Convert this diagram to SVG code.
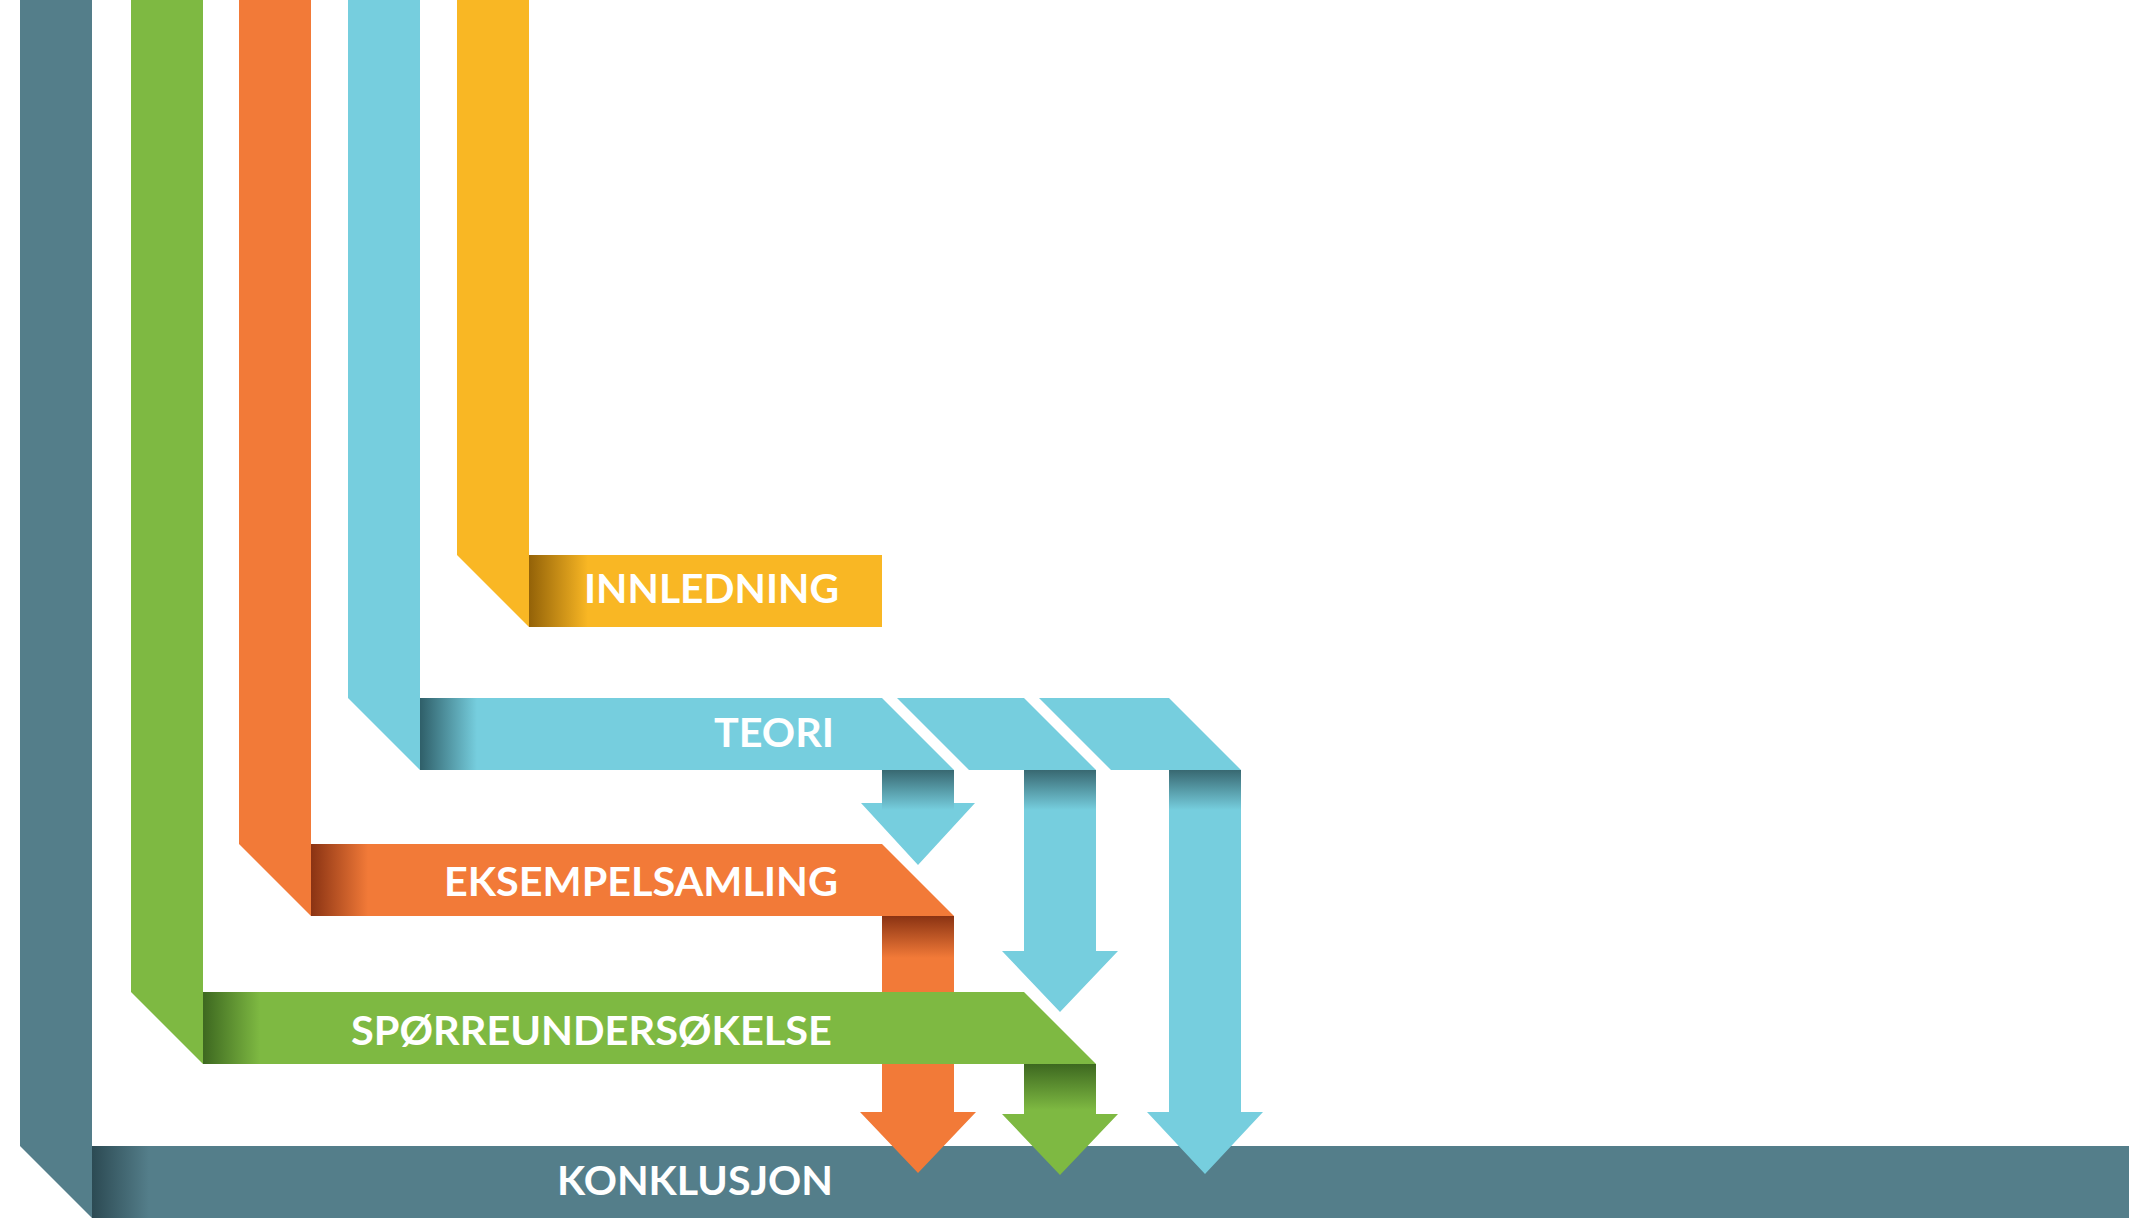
<svg xmlns="http://www.w3.org/2000/svg" width="2129" height="1218" viewBox="0 0 2129 1218">
  <style>
    .teal { fill: #547E8A; }
    .green { fill: #7EB942; }
    .orange { fill: #F27A38; }
    .blue { fill: #76CEDE; }
    .yellow { fill: #F9B724; }
    .label { font-family: "Lato", "Liberation Sans", sans-serif; font-weight: 700; font-size: 40px; fill: #FFFFFF; }
  </style>
  <defs>
    <!-- shading where a ribbon folds into a horizontal bar -->
    <linearGradient id="foldTeal" x1="0" y1="0" x2="1" y2="0">
      <stop offset="0" stop-color="#2C4A53"/>
      <stop offset="1" stop-color="#547E8A"/>
    </linearGradient>
    <linearGradient id="foldGreen" x1="0" y1="0" x2="1" y2="0">
      <stop offset="0" stop-color="#3D6820"/>
      <stop offset="1" stop-color="#7EB942"/>
    </linearGradient>
    <linearGradient id="foldOrange" x1="0" y1="0" x2="1" y2="0">
      <stop offset="0" stop-color="#8A3313"/>
      <stop offset="1" stop-color="#F27A38"/>
    </linearGradient>
    <linearGradient id="foldBlue" x1="0" y1="0" x2="1" y2="0">
      <stop offset="0" stop-color="#2F5F69"/>
      <stop offset="1" stop-color="#76CEDE"/>
    </linearGradient>
    <linearGradient id="foldYellow" x1="0" y1="0" x2="1" y2="0">
      <stop offset="0" stop-color="#936208"/>
      <stop offset="1" stop-color="#F9B724"/>
    </linearGradient>
    <!-- shading where a bar folds down into an arrow -->
    <linearGradient id="dropBlue" x1="0" y1="0" x2="0" y2="1">
      <stop offset="0" stop-color="#386871"/>
      <stop offset="1" stop-color="#76CEDE"/>
    </linearGradient>
    <linearGradient id="dropOrange" x1="0" y1="0" x2="0" y2="1">
      <stop offset="0" stop-color="#8A3313"/>
      <stop offset="1" stop-color="#F27A38"/>
    </linearGradient>
    <linearGradient id="dropGreen" x1="0" y1="0" x2="0" y2="1">
      <stop offset="0" stop-color="#3D6820"/>
      <stop offset="1" stop-color="#7EB942"/>
    </linearGradient>
  </defs>

  <rect width="2129" height="1218" fill="#FFFFFF"/>

  <!-- KONKLUSJON -->
  <g id="konklusjon">
    <polygon class="teal" points="20,0 92,0 92,1218 20,1146"/>
    <rect class="teal" x="92" y="1146" width="2037" height="72"/>
    <rect x="92" y="1146" width="57" height="72" fill="url(#foldTeal)"/>
    <text class="label" x="557" y="1195" textLength="276" lengthAdjust="spacingAndGlyphs">KONKLUSJON</text>
  </g>

  <!-- INNLEDNING -->
  <g id="innledning">
    <polygon class="yellow" points="457,0 529,0 529,627 457,555"/>
    <rect class="yellow" x="529" y="555" width="353" height="72"/>
    <rect x="529" y="555" width="59" height="72" fill="url(#foldYellow)"/>
    <text class="label" x="584" y="603" textLength="255" lengthAdjust="spacingAndGlyphs">INNLEDNING</text>
  </g>

  <!-- TEORI -->
  <g id="teori">
    <polygon class="blue" points="348,0 420,0 420,770 348,698"/>
    <polygon class="blue" points="420,698 882,698 954,770 420,770"/>
    <polygon class="blue" points="897,698 1024,698 1096,770 969,770"/>
    <polygon class="blue" points="1039,698 1169,698 1241,770 1111,770"/>
    <rect x="420" y="698" width="57" height="72" fill="url(#foldBlue)"/>
    <text class="label" x="714" y="747" textLength="120" lengthAdjust="spacingAndGlyphs">TEORI</text>
  </g>

  <!-- EKSEMPELSAMLING -->
  <g id="eksempelsamling">
    <polygon class="orange" points="239,0 311,0 311,916 239,844"/>
    <polygon class="orange" points="311,844 882,844 954,916 311,916"/>
    <rect x="311" y="844" width="57" height="72" fill="url(#foldOrange)"/>
    <text class="label" x="444" y="896" textLength="394" lengthAdjust="spacingAndGlyphs">EKSEMPELSAMLING</text>
  </g>

  <!-- SPØRREUNDERSØKELSE -->
  <g id="sporreundersokelse">
    <polygon class="green" points="131,0 203,0 203,1064 131,992"/>
    <polygon class="green" points="203,992 1024,992 1096,1064 203,1064"/>
    <rect x="203" y="992" width="57" height="72" fill="url(#foldGreen)"/>
    <text class="label" x="351" y="1045" textLength="481" lengthAdjust="spacingAndGlyphs">SPØRREUNDERSØKELSE</text>
  </g>

  <!-- down arrows -->
  <g id="connectors">
    <!-- TEORI to EKSEMPELSAMLING -->
    <polygon class="blue" points="882,770 954,770 954,803 975,803 918,865 861,803 882,803"/>
    <rect x="882" y="770" width="72" height="40" fill="url(#dropBlue)"/>
    <!-- TEORI to SPØRREUNDERSØKELSE -->
    <polygon class="blue" points="1024,770 1096,770 1096,951 1118,951 1060,1012 1002,951 1024,951"/>
    <rect x="1024" y="770" width="72" height="40" fill="url(#dropBlue)"/>
    <!-- TEORI to KONKLUSJON -->
    <polygon class="blue" points="1169,770 1241,770 1241,1112 1263,1112 1205,1174 1147,1112 1169,1112"/>
    <rect x="1169" y="770" width="72" height="40" fill="url(#dropBlue)"/>
    <!-- EKSEMPELSAMLING to KONKLUSJON, passing under SPØRREUNDERSØKELSE -->
    <rect class="orange" x="882" y="916" width="72" height="76"/>
    <rect x="882" y="916" width="72" height="42" fill="url(#dropOrange)"/>
    <polygon class="orange" points="882,1064 954,1064 954,1112 976,1112 918,1173 860,1112 882,1112"/>
    <!-- SPØRREUNDERSØKELSE to KONKLUSJON -->
    <polygon class="green" points="1024,1064 1096,1064 1096,1114 1118,1114 1060,1175 1002,1114 1024,1114"/>
    <rect x="1024" y="1064" width="72" height="46" fill="url(#dropGreen)"/>
  </g>
</svg>
